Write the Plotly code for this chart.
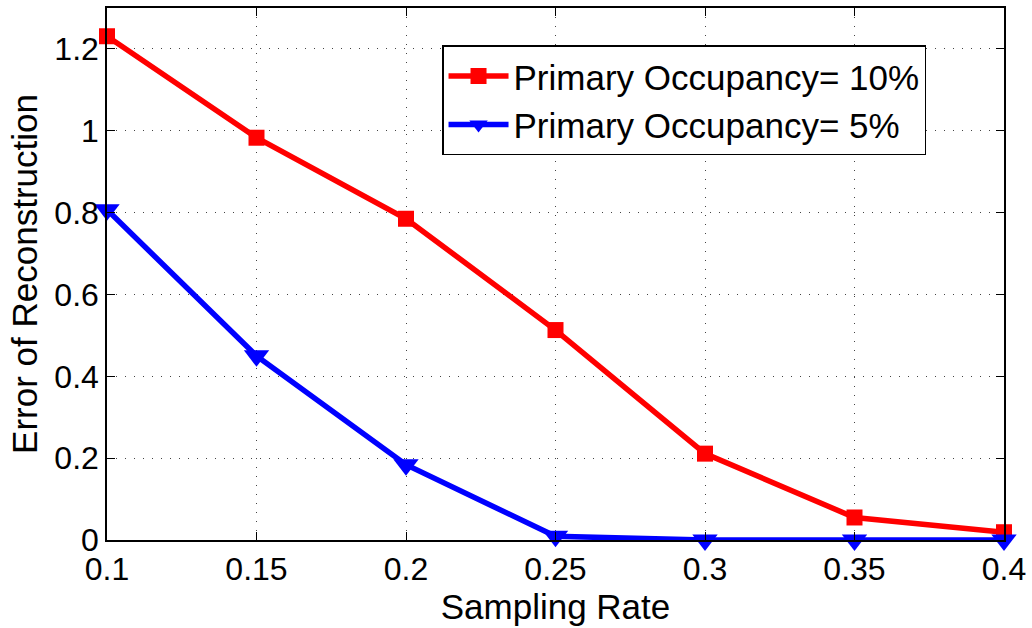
import plotly.graph_objects as go

# Sampling rates and reconstruction error per occupancy level
sampling_rate = [0.1, 0.15, 0.2, 0.25, 0.3, 0.35, 0.4]
error_occ_10 = [1.231, 0.983, 0.785, 0.513, 0.211, 0.055, 0.019]
error_occ_5 = [0.807, 0.450, 0.184, 0.009, 0.0, 0.0, 0.0]

x_ticks = [0.1, 0.15, 0.2, 0.25, 0.3, 0.35, 0.4]
x_tick_text = ["0.1", "0.15", "0.2", "0.25", "0.3", "0.35", "0.4"]
y_ticks = [0, 0.2, 0.4, 0.6, 0.8, 1.0, 1.2]
y_tick_text = ["0", "0.2", "0.4", "0.6", "0.8", "1", "1.2"]

FONT = "Liberation Sans, Arial, Helvetica, sans-serif"

fig = go.Figure()
fig.add_trace(go.Scatter(
    x=sampling_rate, y=error_occ_10, mode="lines+markers",
    name="Primary Occupancy= 10%",
    line=dict(color="#ff0000", width=5.5),
    marker=dict(symbol="square", size=16, color="#ff0000"),
    cliponaxis=False,
))
fig.add_trace(go.Scatter(
    x=sampling_rate, y=error_occ_5, mode="lines+markers",
    name="Primary Occupancy= 5%",
    line=dict(color="#0000ff", width=5.5),
    marker=dict(symbol="triangle-down", size=22, color="#0000ff"),
    cliponaxis=False,
))

axis_common = dict(
    showline=True, linecolor="black", linewidth=1.5, mirror="ticks",
    ticks="inside", ticklen=8, tickcolor="black",
    showgrid=True, gridcolor="#444444", griddash="1px,8px", gridwidth=1,
    zeroline=False,
    tickfont=dict(family=FONT, size=32, color="black"),
)

fig.update_xaxes(
    range=[0.1, 0.4], tickvals=x_ticks, ticktext=x_tick_text,
    title=dict(text="Sampling Rate", font=dict(family=FONT, size=35, color="black"), standoff=0),
    **axis_common,
)
fig.update_yaxes(
    range=[0, 1.3], tickvals=y_ticks, ticktext=y_tick_text,
    title=dict(text="Error of Reconstruction", font=dict(family=FONT, size=35, color="black"), standoff=6),
    **axis_common,
)

fig.update_layout(
    width=1032, height=628,
    margin=dict(l=107, r=28, t=6, b=88),
    paper_bgcolor="white", plot_bgcolor="white",
    font=dict(family=FONT, color="black"),
    legend=dict(
        x=0.3735, y=0.93, xanchor="left", yanchor="top",
        bgcolor="white", bordercolor="black", borderwidth=1.5,
        font=dict(family=FONT, size=35, color="black"),
        itemwidth=60, tracegroupgap=0,
    ),
    showlegend=True,
)

fig.write_html("out.html")
